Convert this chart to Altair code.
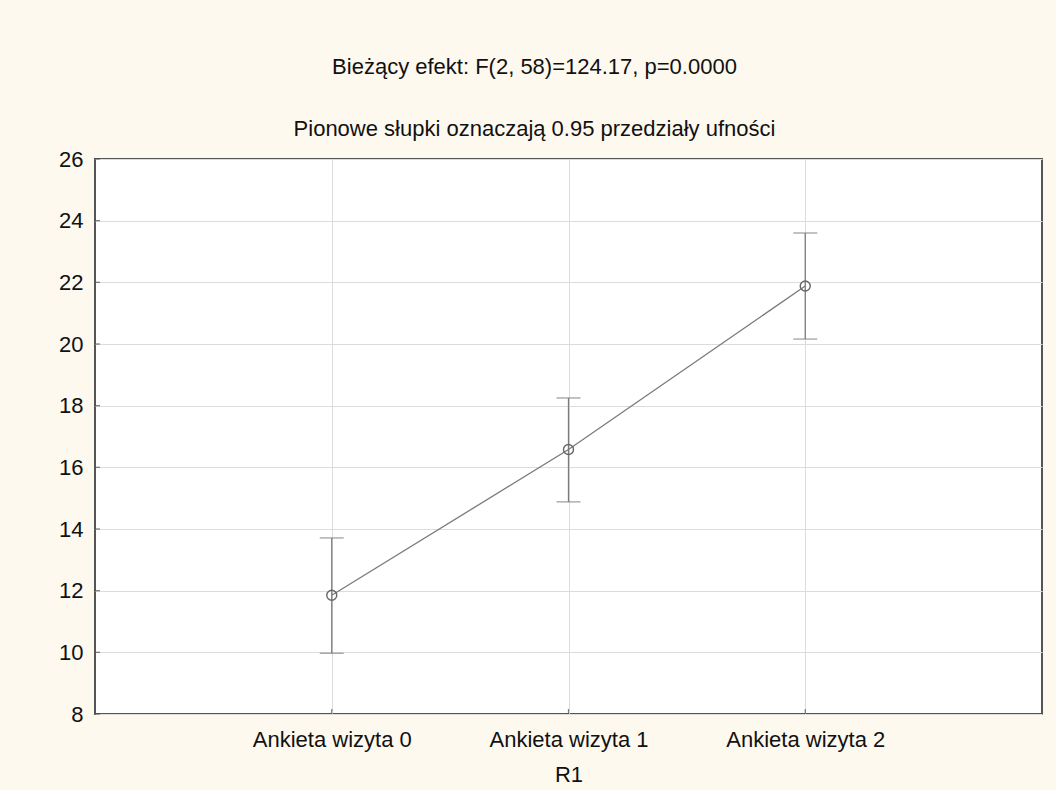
import altair as alt
import pandas as pd

categories = ["Ankieta wizyta 0", "Ankieta wizyta 1", "Ankieta wizyta 2"]
positions = [1, 2, 3]
means = [11.85, 16.58, 21.88]
lower = [9.97, 14.88, 20.16]
upper = [13.71, 18.25, 23.60]
y_ticks = [8, 10, 12, 14, 16, 18, 20, 22, 24, 26]

df = pd.DataFrame({"pos": positions, "cat": categories, "mean": means, "lo": lower, "hi": upper})
ticks_df = pd.DataFrame({"t": y_ticks})

FONT = "Liberation Sans"
FS = 22
GRAY = "#7a7a7a"

label_expr = "datum.value == 1 ? '{}' : datum.value == 2 ? '{}' : datum.value == 3 ? '{}' : ''".format(*categories)

xscale = alt.Scale(domain=[0, 4], nice=False, zero=False)
yscale = alt.Scale(domain=[8, 26], nice=False, zero=False)

xenc = alt.X("pos:Q", scale=xscale, title="R1",
             axis=alt.Axis(values=positions, labelExpr=label_expr, grid=True, ticks=False,
                           domain=False, labelFontSize=FS, labelFont=FONT, labelColor="#111",
                           labelPadding=15, titleFontSize=FS, titleFont=FONT,
                           titleFontWeight="normal", titleColor="#111", titlePadding=14,
                           gridColor="#dcdcdc"))
yenc = alt.Y("mean:Q", scale=yscale, title=None,
             axis=alt.Axis(values=y_ticks, grid=True, ticks=False, domain=False,
                           labelFontSize=FS, labelFont=FONT, labelColor="#111",
                           labelPadding=12, gridColor="#dcdcdc"))

base = alt.Chart(df)

line = base.mark_line(color=GRAY, strokeWidth=1.3).encode(x=xenc, y=yenc)
rules = base.mark_rule(color=GRAY, strokeWidth=1.3).encode(x="pos:Q", y="lo:Q", y2="hi:Q")
cap_lo = base.mark_tick(orient="horizontal", size=24, thickness=1.3, color=GRAY).encode(x="pos:Q", y="lo:Q")
cap_hi = base.mark_tick(orient="horizontal", size=24, thickness=1.3, color=GRAY).encode(x="pos:Q", y="hi:Q")
points = base.mark_point(shape="circle", size=100, filled=False, color="#666", strokeWidth=1.4,
                         opacity=1).encode(x="pos:Q", y="mean:Q")

ytick_marks = alt.Chart(ticks_df).mark_tick(orient="horizontal", size=5, thickness=1.2,
                                            color="#444").encode(
    x=alt.value(2.5), y=alt.Y("t:Q", scale=yscale))
xtick_marks = alt.Chart(pd.DataFrame({"p": positions})).mark_tick(
    orient="vertical", size=5, thickness=1.2, color="#444").encode(
    x=alt.X("p:Q", scale=xscale), y=alt.value(552.5))

chart = alt.layer(line, rules, cap_lo, cap_hi, points, ytick_marks, xtick_marks).properties(
    width=947, height=555,
    title=alt.TitleParams(
        text=["Bieżący efekt: F(2, 58)=124.17, p=0.0000", "Pionowe słupki oznaczają 0.95 przedziały ufności"],
        fontSize=FS, font=FONT, fontWeight="normal", color="#111", lineHeight=62,
        anchor="middle", offset=7, dx=-34),
    background="#fdf9ef",
    padding={"left": 95, "top": 159, "right": 14, "bottom": 76},
    autosize=alt.AutoSizeParams(type="none"),
).configure_view(fill="white", stroke="#555", strokeWidth=2)

chart.save("out.html", embed_options={"renderer": "svg", "actions": False})
